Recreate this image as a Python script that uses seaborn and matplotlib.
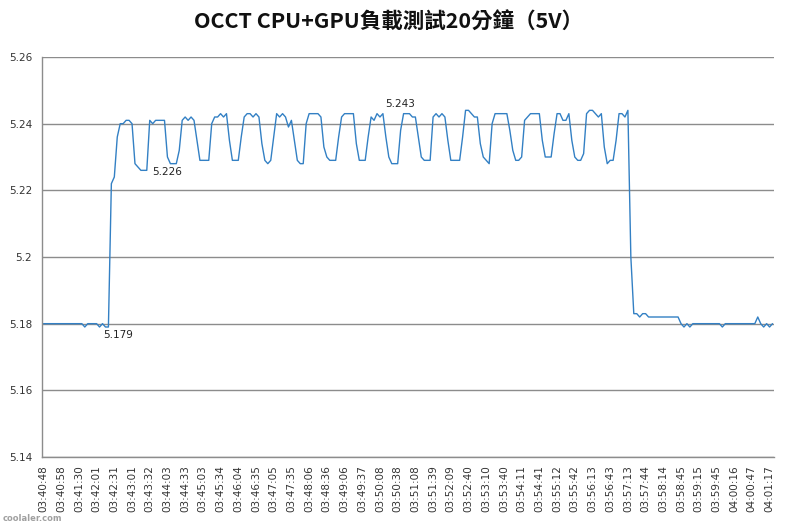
import matplotlib
matplotlib.use("Agg")
import matplotlib.pyplot as plt
import seaborn as sns
import pandas as pd
import numpy as np

# ---------------- data ----------------
title = "OCCT CPU+GPU負載測試20分鐘（5V）"

x_tick_labels = [
    "03:40:48", "03:40:58", "03:41:30", "03:42:01", "03:42:31", "03:43:01",
    "03:43:32", "03:44:03", "03:44:33", "03:45:03", "03:45:34", "03:46:04",
    "03:46:35", "03:47:05", "03:47:35", "03:48:06", "03:48:36", "03:49:06",
    "03:49:37", "03:50:08", "03:50:38", "03:51:08", "03:51:39", "03:52:09",
    "03:52:40", "03:53:10", "03:53:40", "03:54:11", "03:54:41", "03:55:12",
    "03:55:42", "03:56:13", "03:56:43", "03:57:13", "03:57:44", "03:58:14",
    "03:58:45", "03:59:15", "03:59:45", "04:00:16", "04:00:47", "04:01:17",
]
label_step = 6  # one tick label every 6 samples

voltage_5v = [
    # 0-9
    5.180, 5.180, 5.180, 5.180, 5.180, 5.180, 5.180, 5.180, 5.180, 5.180,
    # 10-19
    5.180, 5.180, 5.180, 5.180, 5.179, 5.180, 5.180, 5.180, 5.180, 5.179,
    # 20-29
    5.180, 5.179, 5.179, 5.222, 5.224, 5.236, 5.240, 5.240, 5.241, 5.241,
    # 30-39
    5.240, 5.228, 5.227, 5.226, 5.226, 5.226, 5.241, 5.240, 5.241, 5.241,
    # 40-49
    5.241, 5.241, 5.230, 5.228, 5.228, 5.228, 5.232, 5.241, 5.242, 5.241,
    # 50-59
    5.242, 5.241, 5.235, 5.229, 5.229, 5.229, 5.229, 5.240, 5.242, 5.242,
    # 60-69
    5.243, 5.242, 5.243, 5.235, 5.229, 5.229, 5.229, 5.236, 5.242, 5.243,
    # 70-79
    5.243, 5.242, 5.243, 5.242, 5.234, 5.229, 5.228, 5.229, 5.236, 5.243,
    # 80-89
    5.242, 5.243, 5.242, 5.239, 5.241, 5.235, 5.229, 5.228, 5.228, 5.240,
    # 90-99
    5.243, 5.243, 5.243, 5.243, 5.242, 5.233, 5.230, 5.229, 5.229, 5.229,
    # 100-109
    5.236, 5.242, 5.243, 5.243, 5.243, 5.243, 5.234, 5.229, 5.229, 5.229,
    # 110-119
    5.236, 5.242, 5.241, 5.243, 5.242, 5.243, 5.236, 5.230, 5.228, 5.228,
    # 120-129
    5.228, 5.238, 5.243, 5.243, 5.243, 5.242, 5.242, 5.236, 5.230, 5.229,
    # 130-139
    5.229, 5.229, 5.242, 5.243, 5.242, 5.243, 5.242, 5.235, 5.229, 5.229,
    # 140-149
    5.229, 5.229, 5.236, 5.244, 5.244, 5.243, 5.242, 5.242, 5.234, 5.230,
    # 150-159
    5.229, 5.228, 5.240, 5.243, 5.243, 5.243, 5.243, 5.243, 5.238, 5.232,
    # 160-169
    5.229, 5.229, 5.230, 5.241, 5.242, 5.243, 5.243, 5.243, 5.243, 5.235,
    # 170-179
    5.230, 5.230, 5.230, 5.237, 5.243, 5.243, 5.241, 5.241, 5.243, 5.235,
    # 180-189
    5.230, 5.229, 5.229, 5.231, 5.243, 5.244, 5.244, 5.243, 5.242, 5.243,
    # 190-199
    5.233, 5.228, 5.229, 5.229, 5.235, 5.243, 5.243, 5.242, 5.244, 5.200,
    # 200-209
    5.183, 5.183, 5.182, 5.183, 5.183, 5.182, 5.182, 5.182, 5.182, 5.182,
    # 210-219
    5.182, 5.182, 5.182, 5.182, 5.182, 5.182, 5.180, 5.179, 5.180, 5.179,
    # 220-229
    5.180, 5.180, 5.180, 5.180, 5.180, 5.180, 5.180, 5.180, 5.180, 5.180,
    # 230-239
    5.179, 5.180, 5.180, 5.180, 5.180, 5.180, 5.180, 5.180, 5.180, 5.180,
    # 240-247
    5.180, 5.180, 5.182, 5.180, 5.179, 5.180, 5.179, 5.180,
]

y_ticks = [5.14, 5.16, 5.18, 5.20, 5.22, 5.24, 5.26]
y_tick_labels = ["5.14", "5.16", "5.18", "5.2", "5.22", "5.24", "5.26"]

# annotated data labels: (sample index, text)
data_labels = [(21, "5.179"), (35, "5.226"), (115, "5.243")]

# ---------------- plot ----------------
sns.set_theme(style="white")
plt.rcParams["font.family"] = ["DejaVu Sans", "Noto Sans CJK TC"]

df = pd.DataFrame({"idx": np.arange(len(voltage_5v)), "v": voltage_5v})

fig = plt.figure(figsize=(7.89, 5.24), dpi=100)
ax = fig.add_axes([42 / 789, 1 - 457 / 524, (774 - 42) / 789, (457 - 57) / 524])

sns.lineplot(data=df, x="idx", y="v", ax=ax, color="#3380C4", linewidth=1.0)

ax.set_xlim(-0.5, len(voltage_5v) - 0.5)
ax.set_ylim(5.14, 5.26)
ax.set_yticks(y_ticks)
ax.set_yticklabels(y_tick_labels)
ax.set_xticks(list(range(0, len(x_tick_labels) * label_step, label_step)))
ax.set_xticklabels(x_tick_labels, rotation=90)
ax.set_xlabel("")
ax.set_ylabel("")

ax.yaxis.grid(True, color="#8C8C8C", linewidth=1.0)
ax.xaxis.grid(False)
for s in ["top", "right"]:
    ax.spines[s].set_visible(False)
for s in ["left", "bottom"]:
    ax.spines[s].set_color("#8C8C8C")
    ax.spines[s].set_linewidth(1.0)
ax.tick_params(axis="both", length=0, labelsize=7.5, colors="#333333")
ax.tick_params(axis="y", pad=7)
ax.tick_params(axis="x", pad=6)

for i, txt in data_labels:
    if txt == "5.179":
        off = (-2, -8)
    elif txt == "5.226":
        off = (5, -2)
    else:
        off = (2, 10)
    ax.annotate(txt, xy=(i, voltage_5v[i]), xytext=off, textcoords="offset pixels",
                ha="left", va="center", fontsize=7.5, color="#222222")

fig.text(0.492, 1 - 22 / 524, title, ha="center", va="center", fontsize=15.5,
         fontweight="bold", family=["Noto Sans CJK TC", "DejaVu Sans"], color="#111111")

fig.text(0.003, 0.001, "coolaler.com", ha="left", va="bottom", fontsize=6,
         color="#A0A0A0", fontweight="bold")

fig.savefig("out.png", dpi=100)
